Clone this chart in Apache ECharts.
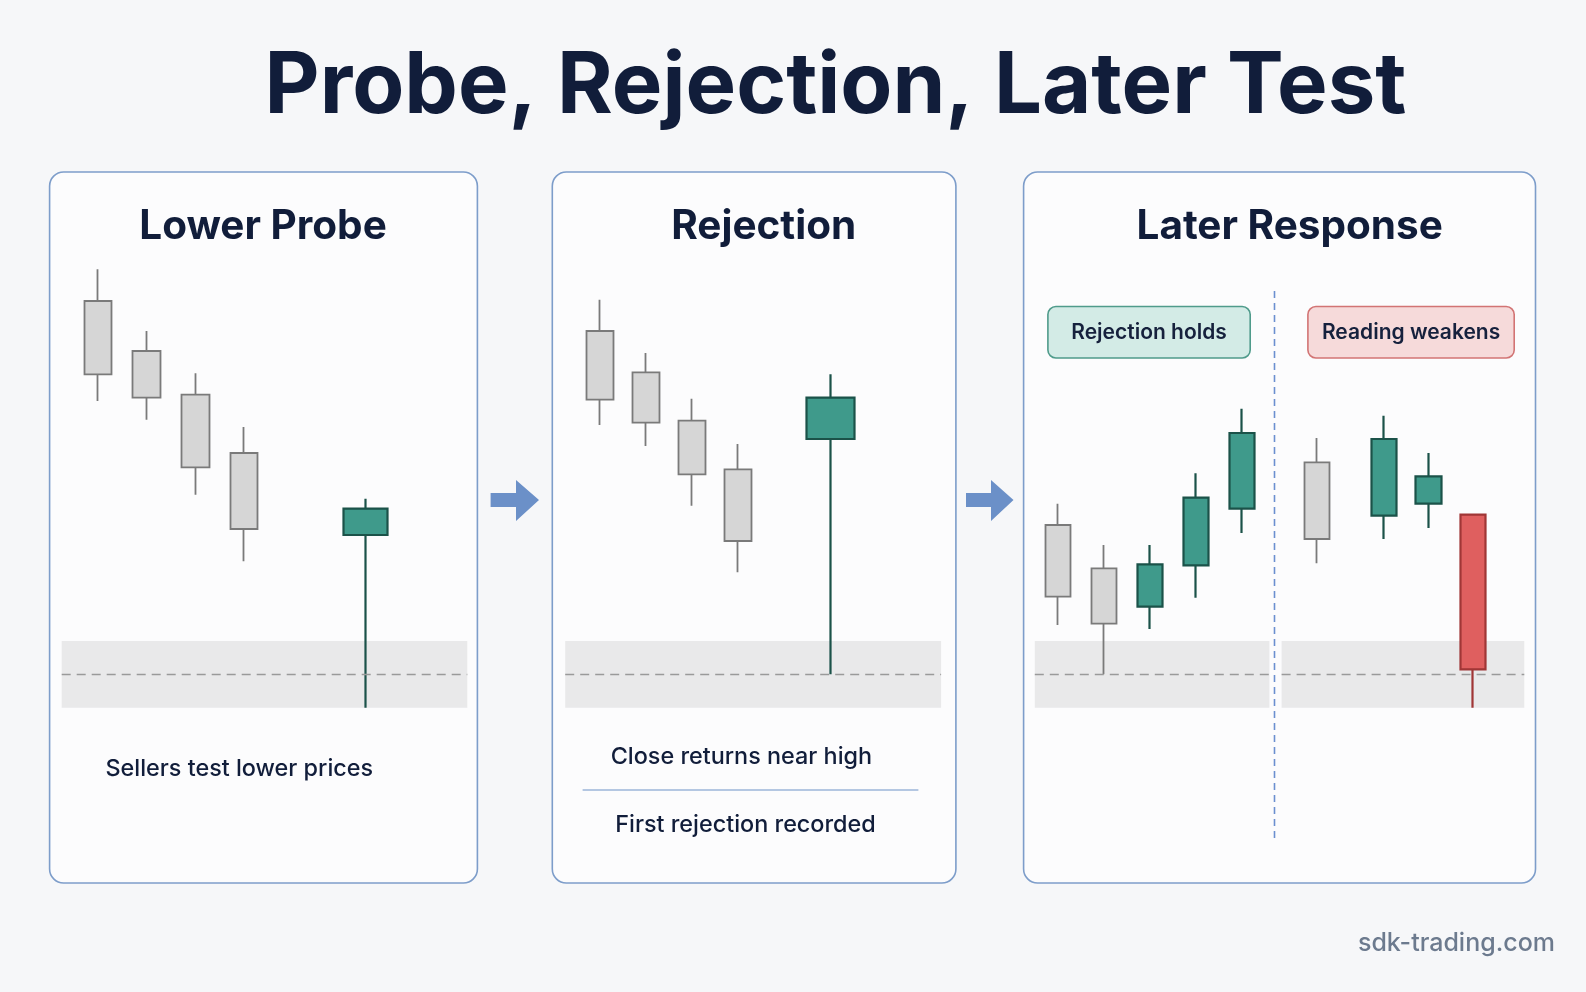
<!DOCTYPE html>
<html><head><meta charset="utf-8">
<script src="https://cdn.jsdelivr.net/npm/echarts@6/dist/echarts.min.js"></script>
<style>html,body{margin:0;padding:0;background:#f6f7f9}#c{width:1586px;height:992px}</style>
</head><body><div id="c"></div>
<script>
// ---- data (price units; support level = 100, zone 90..110) ----
const yMin = 80, yMax = 230;
const supportLevel = 100;
const zoneLow = 90, zoneHigh = 110;
// each candle: [open, close, low, high]
const probeGrayX = [0, 2, 4, 6];
const probeGray = [[212, 190, 182, 221.5], [197, 183, 176.4, 203], [183.9, 162.1, 153.9, 190.3], [166.4, 143.6, 133.9, 174.2]];
const probeGreenX = [11];
const probeGreen = [[141.8, 149.7, 90, 152.7]];

const rejGrayX = [0, 2, 4, 6];
const rejGray = [[203, 182.4, 174.8, 212.4], [190.6, 175.5, 168.5, 196.4], [176.1, 160, 150.6, 182.7], [161.5, 140, 130.6, 169.1]];
const rejGreenX = [10];
const rejGreen = [[170.6, 183, 100, 190]];

const holdGrayX = [0, 1];
const holdGray = [[144.8, 123.3, 114.8, 151.2], [131.8, 115.2, 100, 138.8]];
const holdGreenX = [2, 3, 4];
const holdGreen = [[120.3, 133, 113.6, 138.8], [132.7, 153, 123, 160.3], [149.7, 172.4, 142.4, 179.7]];

const weakGrayX = [0];
const weakGray = [[163.6, 140.6, 133.3, 170.9]];
const weakGreenX = [3, 5];
const weakGreen = [[147.6, 170.6, 140.6, 177.6], [151.2, 159.4, 143.9, 166.4]];
const weakRedX = [7];
const weakRed = [[147.9, 101.5, 90, 147.9]];

const mainTitle = 'Probe, Rejection, Later Test';
const panelTitles = ['Lower Probe', 'Rejection', 'Later Response'];
const tagLabels = ['Rejection holds', 'Reading weakens'];
const captions = ['Sellers test lower prices', 'Close returns near high', 'First rejection recorded'];
const watermark = 'sdk-trading.com';

// ---- styles ----
const GRAY = {color: '#d6d6d6', color0: '#d6d6d6', borderColor: '#7a7a7a', borderColor0: '#7a7a7a', borderWidth: 1.8};
const GREEN = {color: '#3f9a8b', color0: '#3f9a8b', borderColor: '#1b5249', borderColor0: '#1b5249', borderWidth: 2.2};
const RED = {color: '#df5f5f', color0: '#df5f5f', borderColor: '#a03636', borderColor0: '#a03636', borderWidth: 2.2};

function rows(xs, vals) { return xs.map((x, i) => [x].concat(vals[i])); }

const grids = [
  {left: 61.7, width: 405.6, xmin: -1.5, xmax: 15.2},
  {left: 565.2, width: 375.9, xmin: -1.5, xmax: 14.8},
  {left: 1034.8, width: 234.6, xmin: -0.5, xmax: 4.6},
  {left: 1281.6, width: 242.7, xmin: -1.6, xmax: 9.3}
];

function candle(gi, data, style, bw, withZone) {
  const s = {
    type: 'candlestick', xAxisIndex: gi, yAxisIndex: gi,
    dimensions: ['x', 'open', 'close', 'lowest', 'highest'],
    encode: {x: 'x', y: ['open', 'close', 'lowest', 'highest']},
    data: data, barWidth: bw, itemStyle: style, clip: false, silent: true, z: 3
  };
  if (withZone) {
    s.markArea = {silent: true, itemStyle: {color: '#e9e9ea'}, data: [[{yAxis: zoneLow}, {yAxis: zoneHigh}]]};
    s.markLine = {silent: true, symbol: 'none', label: {show: false},
      lineStyle: {color: '#9a9a9a', type: [9, 6], width: 1.3}, data: [{yAxis: supportLevel}]};
  }
  return s;
}

const series = [
  candle(0, rows(probeGrayX, probeGray), GRAY, 28, true),
  candle(0, rows(probeGreenX, probeGreen), GREEN, 44, false),
  candle(1, rows(rejGrayX, rejGray), GRAY, 27, true),
  candle(1, rows(rejGreenX, rejGreen), GREEN, 49, false),
  candle(2, rows(holdGrayX, holdGray), GRAY, 26, true),
  candle(2, rows(holdGreenX, holdGreen), GREEN, 26, false),
  candle(3, rows(weakGrayX, weakGray), GRAY, 26, true),
  candle(3, rows(weakGreenX, weakGreen), GREEN, 26, false),
  candle(3, rows(weakRedX, weakRed), RED, 26, false)
];

const FONT = 'Inter, "Noto Sans", sans-serif';
const NAVY = '#111d3a';
function panel(x1, x2) {
  return {type: 'rect', shape: {x: x1, y: 172, width: x2 - x1, height: 711, r: 14},
    style: {fill: '#fcfcfd', stroke: '#7d9dca', lineWidth: 1.6}, z: -10};
}
function arrow(x0, x1, x2) {
  return {type: 'polygon', shape: {points: [[x0, 493], [x1, 493], [x1, 480], [x2, 500], [x1, 521], [x1, 507], [x0, 507]]},
    style: {fill: '#6b90c8'}, z: -5};
}
function txt(t, x, y, size, weight, color, align) {
  return {type: 'text', x: x, y: y, z: 20,
    style: {text: t, fill: color || NAVY, font: weight + ' ' + size + 'px ' + FONT, align: align || 'center', verticalAlign: 'middle'}};
}
function tag(x1, x2, fill, stroke, label) {
  return [
    {type: 'rect', shape: {x: x1, y: 306.5, width: x2 - x1, height: 51.5, r: 8}, style: {fill: fill, stroke: stroke, lineWidth: 1.6}, z: 15},
    txt(label, (x1 + x2) / 2, 333, 21, 600, '#16213d')
  ];
}

const graphic = [
  panel(49.6, 477.4), panel(552.3, 955.9), panel(1023.6, 1535.5),
  arrow(490.6, 516, 539), arrow(966, 991, 1013.5),
  txt(mainTitle, 835.5, 87, 85, 700),
  txt(panelTitles[0], 263, 227, 40.5, 700),
  txt(panelTitles[1], 763.7, 227, 40.5, 700),
  txt(panelTitles[2], 1289.7, 227, 40.5, 700),
  {type: 'line', shape: {x1: 1274.5, y1: 291, x2: 1274.5, y2: 838}, style: {stroke: '#6b8fd0', lineWidth: 1.6, lineDash: [7, 5]}, z: 10},
  ...tag(1047.9, 1250.2, '#d3ebe6', '#4f9b8b', tagLabels[0]),
  ...tag(1307.9, 1514.2, '#f6dada', '#d27474', tagLabels[1]),
  txt(captions[0], 239.3, 768.7, 23.4, 500),
  txt(captions[1], 741.4, 756.6, 23.4, 500),
  {type: 'line', shape: {x1: 582.6, y1: 790, x2: 918.4, y2: 790}, style: {stroke: '#9db6d9', lineWidth: 1.4}, z: 10},
  txt(captions[2], 745.5, 825.4, 23.4, 500),
  txt(watermark, 1555, 943.7, 25, 500, '#6c7a8e', 'right')
];

const chart = echarts.init(document.getElementById('c'), null, {renderer: 'canvas'});
chart.setOption({
  backgroundColor: '#f6f7f9',
  animation: false,
  grid: grids.map(g => ({left: g.left, width: g.width, top: 241, height: 500})),
  xAxis: grids.map((g, i) => ({type: 'value', gridIndex: i, min: g.xmin, max: g.xmax, show: false})),
  yAxis: grids.map((g, i) => ({type: 'value', gridIndex: i, min: yMin, max: yMax, show: false})),
  graphic: graphic,
  series: series
});
</script></body></html>
